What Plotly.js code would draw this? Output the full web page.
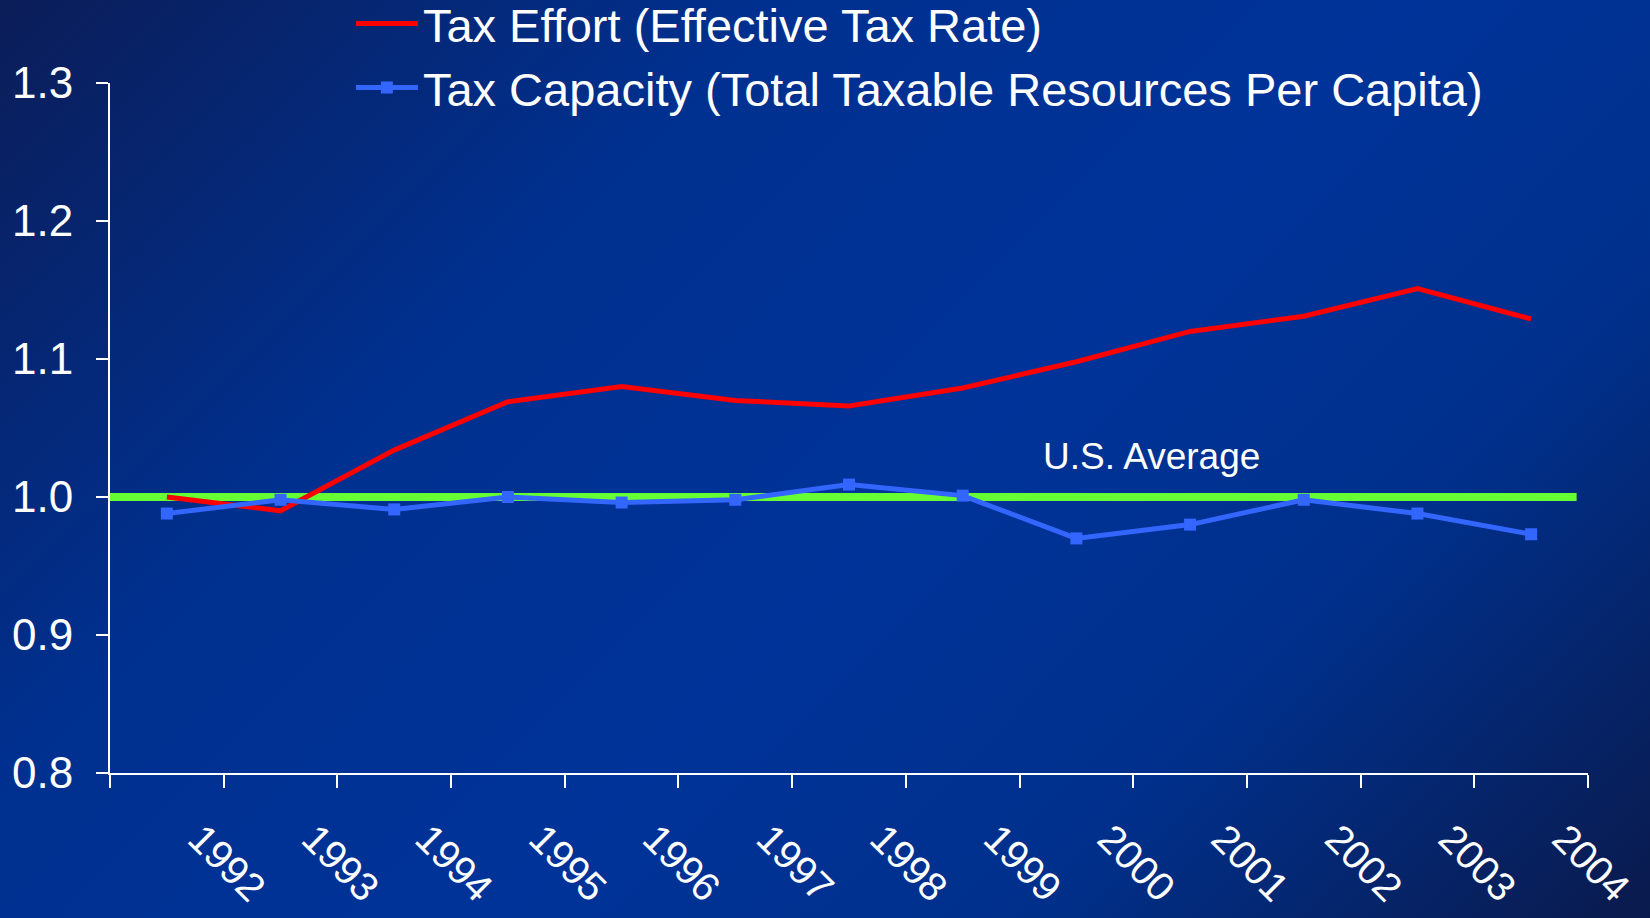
<!DOCTYPE html>
<html>
<head>
<meta charset="utf-8">
<script src="https://cdn.plot.ly/plotly-3.0.1.min.js"></script>
<style>
  html, body { margin: 0; padding: 0; width: 1650px; height: 918px; overflow: hidden; }
  body { background: linear-gradient(135deg, #0b1d58 0%, #00308f 30%, #003399 55%, #00308c 75%, #0a1a4c 100%); }
  #chart { width: 1650px; height: 918px; }
</style>
</head>
<body>
<div id="chart"></div>
<script>
const years = ['1992','1993','1994','1995','1996','1997','1998','1999','2000','2001','2002','2003','2004'];
const taxEffort = [1.000, 0.990, 1.034, 1.069, 1.080, 1.070, 1.066, 1.079, 1.098, 1.120, 1.131, 1.151, 1.129];
const taxCapacity = [0.988, 0.998, 0.991, 1.000, 0.996, 0.998, 1.009, 1.001, 0.970, 0.980, 0.998, 0.988, 0.973];
const usAverage = 1.0;
const seriesNames = ['Tax Effort (Effective Tax Rate)', 'Tax Capacity (Total Taxable Resources Per Capita)'];
const avgLabel = 'U.S. Average';

const FONT = 'Liberation Sans, Arial, sans-serif';

const traces = [
  {
    x: years, y: taxEffort, name: seriesNames[0], type: 'scatter', mode: 'lines',
    line: { color: '#ff0000', width: 5 }
  },
  {
    x: years, y: taxCapacity, name: seriesNames[1], type: 'scatter', mode: 'lines+markers',
    line: { color: '#3366ff', width: 5 },
    marker: { symbol: 'square', size: 12, color: '#3366ff' }
  }
];

const layout = {
  width: 1650, height: 918,
  paper_bgcolor: 'rgba(0,0,0,0)',
  plot_bgcolor: 'rgba(0,0,0,0)',
  margin: { l: 110, r: 62, t: 83, b: 145, autoexpand: false },
  font: { family: FONT, color: '#ffffff' },
  showlegend: true,
  legend: {
    x: 0.163, y: 1.14, xanchor: 'left', yanchor: 'top',
    bgcolor: 'rgba(0,0,0,0)',
    itemwidth: 62,
    font: { family: FONT, size: 47, color: '#ffffff' },
    tracegroupgap: 0
  },
  xaxis: {
    type: 'category',
    range: [-0.5, 12.5],
    tickson: 'boundaries',
    ticks: 'outside', ticklen: 13, tickwidth: 2, tickcolor: '#ffffff',
    showline: true, linecolor: '#ffffff', linewidth: 2,
    showgrid: false, zeroline: false,
    tickangle: 45,
    tickfont: { family: FONT, size: 40, color: '#ffffff' },
    ticklabelstandoff: 24,
    ticklabelshift: 33
  },
  yaxis: {
    range: [0.8, 1.3],
    dtick: 0.1, tick0: 0.8, tickformat: '.1f',
    ticks: 'outside', ticklen: 12, tickwidth: 2, tickcolor: '#ffffff',
    showline: true, linecolor: '#ffffff', linewidth: 2,
    showgrid: false, zeroline: false,
    tickfont: { family: FONT, size: 44, color: '#ffffff' },
    ticklabelstandoff: 14
  },
  shapes: [
    {
      type: 'line', xref: 'x', yref: 'y', layer: 'below',
      x0: -0.5, x1: 12.4, y0: usAverage, y1: usAverage,
      line: { color: '#66ff33', width: 8 }
    }
  ],
  annotations: [
    {
      text: avgLabel, xref: 'x', yref: 'y', x: 8.66, y: usAverage + 0.029,
      showarrow: false, font: { family: FONT, size: 37, color: '#ffffff' }
    }
  ]
};

Plotly.newPlot('chart', traces, layout, { displayModeBar: false, staticPlot: true });
</script>
</body>
</html>
